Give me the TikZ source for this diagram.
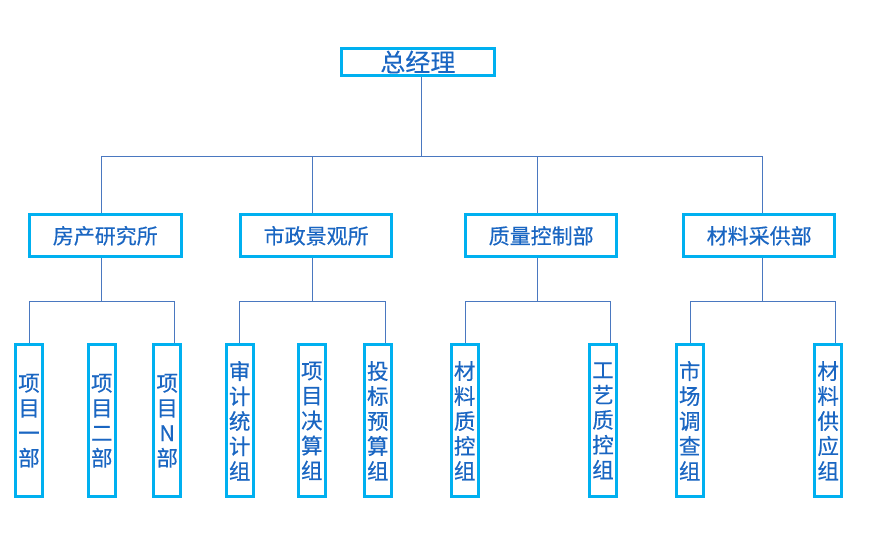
\documentclass[tikz,border=0pt]{standalone}
\usepackage{fontspec}
\setmainfont{Noto Sans CJK SC}[FakeBold=0.4]
\definecolor{linec}{HTML}{4A78C0}
\definecolor{boxc}{HTML}{00B0F0}
\definecolor{txtc}{HTML}{1A66C2}
\tikzset{
  conn/.style={draw=linec, line width=1pt},
  box/.style={draw=boxc, line width=3pt, inner sep=0pt, text=txtc, fill=white},
  topbox/.style={box, minimum width=152.7pt, minimum height=27.6pt, font=\fontsize{25}{25}\selectfont},
  midbox/.style={box, minimum width=151.5pt, minimum height=42pt, font=\fontsize{21}{21}\selectfont},
  lowbox/.style={box, minimum width=27pt, minimum height=152pt, align=center, font=\fontsize{21.5}{25}\selectfont}
}
\begin{document}
\begin{tikzpicture}[x=1pt,y=-1pt]
\useasboundingbox (0,0) rectangle (886,543);
% top
\node[topbox] (top) at (417.9,62) {总经理};
% level 2
\node[midbox] (m1) at (105.3,235.8) {房产研究所};
\node[midbox] (m2) at (316.2,235.8) {市政景观所};
\node[midbox] (m3) at (541.2,235.8) {质量控制部};
\node[midbox] (m4) at (759.2,235.8) {材料采供部};
% level 3
\node[lowbox] (a1) at (29,420.8) {项\\目\\一\\部};
\node[lowbox] (a2) at (101.8,420.8) {项\\目\\二\\部};
\node[lowbox] (a3) at (167.2,420.8) {项\\目\\N\\部};
\node[lowbox] (b1) at (239.7,420.8) {审\\计\\统\\计\\组};
\node[lowbox] (b2) at (311.8,420.8) {项\\目\\决\\算\\组};
\node[lowbox] (b3) at (377.8,420.8) {投\\标\\预\\算\\组};
\node[lowbox] (c1) at (464.7,420.8) {材\\料\\质\\控\\组};
\node[lowbox] (c2) at (603,420.8) {工\\艺\\质\\控\\组};
\node[lowbox] (d1) at (689.7,420.8) {市\\场\\调\\查\\组};
\node[lowbox] (d2) at (828.2,420.8) {材\\料\\供\\应\\组};
% top bus
\coordinate (bus1) at (421,156);
\draw[conn] (top.south -| bus1) -- (bus1);
\draw[conn] (m1.north -| 101.3,0) -- (101.3,156) -- (762.3,156) -- (m4.north -| 762.3,0);
\draw[conn] (312.3,156) -- (m2.north -| 312.3,0);
\draw[conn] (537.3,156) -- (m3.north -| 537.3,0);
% group 1
\draw[conn] (m1.south -| 101.3,0) -- (101.3,301.7);
\draw[conn] (a1.north -| 29,0) -- (29,301.7) -- (174,301.7) -- (a3.north -| 174,0);
% group 2
\draw[conn] (m2.south -| 312.3,0) -- (312.3,301.7);
\draw[conn] (b1.north -| 239.3,0) -- (239.3,301.7) -- (385.7,301.7) -- (b3.north -| 385.7,0);
% group 3
\draw[conn] (m3.south -| 537.3,0) -- (537.3,301.7);
\draw[conn] (c1.north -| 465.7,0) -- (465.7,301.7) -- (610.7,301.7) -- (c2.north -| 610.7,0);
% group 4
\draw[conn] (m4.south -| 762.3,0) -- (762.3,301.7);
\draw[conn] (d1.north -| 690.7,0) -- (690.7,301.7) -- (835.7,301.7) -- (d2.north -| 835.7,0);
\end{tikzpicture}
\end{document}
